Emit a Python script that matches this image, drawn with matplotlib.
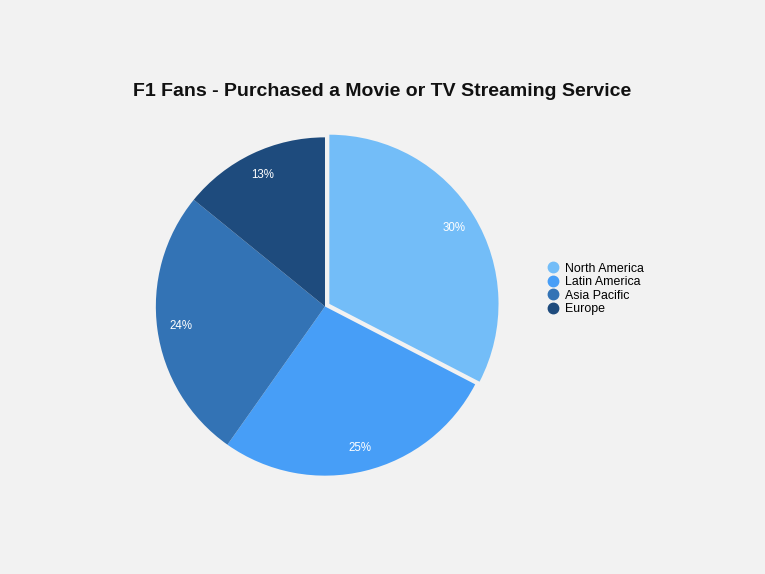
import matplotlib
matplotlib.use("Agg")
import matplotlib.pyplot as plt
from matplotlib.lines import Line2D

regions = ["North America", "Latin America", "Asia Pacific", "Europe"]
values = [30, 25, 24, 13]
colors = ["#73BDF8", "#479EF7", "#3373B5", "#1E4B7D"]
explode = [0.03, 0, 0, 0]

bg = "#F2F2F2"
plt.rcParams["font.family"] = ["Liberation Sans", "DejaVu Sans"]

fig = plt.figure(figsize=(7.65, 5.74), dpi=100, facecolor=bg)
ax = fig.add_axes([138/765, (574-493.5)/574, 374/765, 374/574])
ax.set_facecolor(bg)

wedges, texts, autotexts = ax.pie(
    values, colors=colors, explode=explode, startangle=90, counterclock=False,
    radius=0.995, pctdistance=0.86,
    autopct=lambda p: "",
    wedgeprops=dict(linewidth=0),
)
for w, v, at in zip(wedges, values, autotexts):
    at.set_text(f"{v}%")
    at.set_color("white")
    at.set_fontsize(8.3)
ax.set_xlim(-1.1, 1.1)
ax.set_ylim(-1.1, 1.1)
ax.set_aspect("equal")
ax.axis("off")

fig.text(0.5, 1 - 91.5/574, "F1 Fans - Purchased a Movie or TV Streaming Service",
         ha="center", va="center", fontsize=14, fontweight="bold", color="#111111")

handles = [Line2D([0], [0], marker="o", linestyle="none", markersize=7.5,
                  markerfacecolor=c, markeredgecolor=c) for c in colors]
fig.legend(handles, regions, loc="center left", bbox_to_anchor=(547/765, 1 - 289/574),
           frameon=False, fontsize=8.9, handletextpad=0.45, labelspacing=0.12,
           handlelength=1.0, borderpad=0, borderaxespad=0)

fig.savefig("out.png", dpi=100, facecolor=bg)
